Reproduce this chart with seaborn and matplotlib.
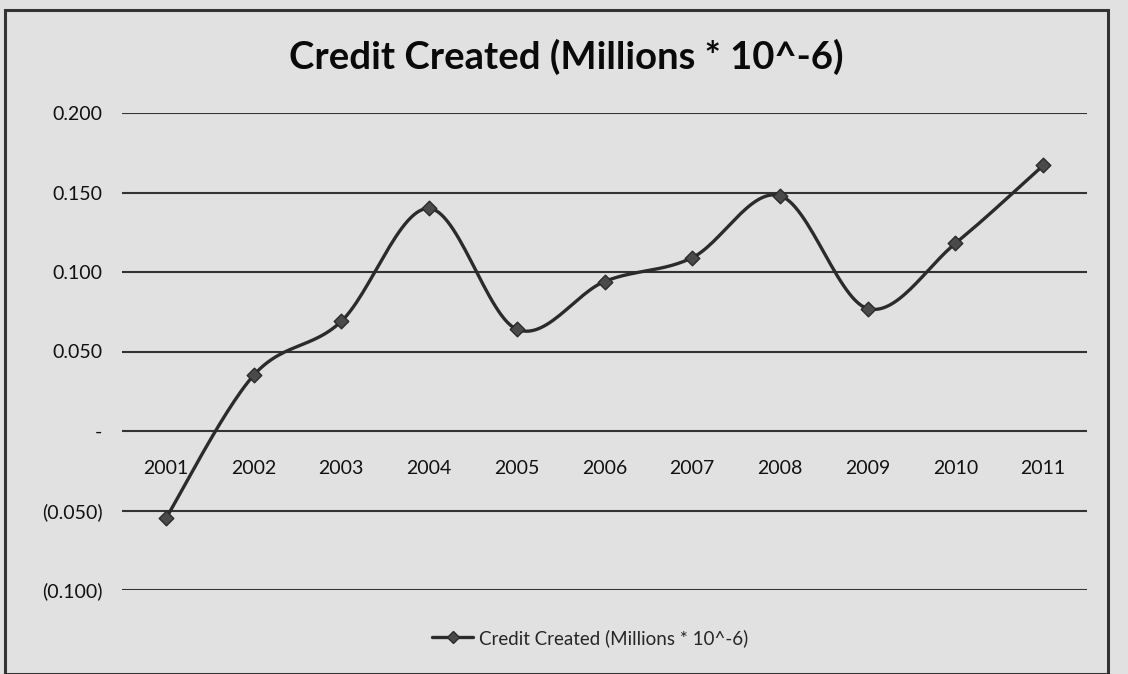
import numpy as np
import pandas as pd
import matplotlib
matplotlib.use("Agg")
from matplotlib import pyplot as plt
from matplotlib.lines import Line2D
from matplotlib.patches import Rectangle
import seaborn as sns

years = ["2001", "2002", "2003", "2004", "2005", "2006",
         "2007", "2008", "2009", "2010", "2011"]
credit = [-0.055, 0.035, 0.069, 0.140, 0.064, 0.094,
          0.109, 0.148, 0.077, 0.118, 0.167]
ytick_vals = [-0.10, -0.05, 0.0, 0.05, 0.10, 0.15, 0.20]
ytick_text = ["(0.100)", "(0.050)", "-", "0.050", "0.100", "0.150", "0.200"]
title = "Credit Created (Millions * 10^-6)"

bg = "#e1e1e1"
ink = "#2b2b2b"

sns.set_style("white")
plt.rcParams["font.family"] = ["Lato", "DejaVu Sans"]

df = pd.DataFrame({"pos": np.arange(len(years)), "credit": credit})


# excel-like smoothed line (bezier through the points)
def smooth(x, y, n=30):
    x = np.asarray(x, float)
    y = np.asarray(y, float)
    px = np.concatenate([[x[0]], x, [x[-1]]])
    py = np.concatenate([[y[0]], y, [y[-1]]])
    outx, outy = [], []
    t = np.linspace(0, 1, n)
    for i in range(1, len(x)):
        p0 = np.array([px[i], py[i]])
        p3 = np.array([px[i + 1], py[i + 1]])
        c1 = p0 + (np.array([px[i + 1], py[i + 1]]) - np.array([px[i - 1], py[i - 1]])) / 6
        c2 = p3 - (np.array([px[i + 2], py[i + 2]]) - np.array([px[i], py[i]])) / 6
        b = ((1 - t) ** 3)[:, None] * p0 + (3 * (1 - t) ** 2 * t)[:, None] * c1 \
            + (3 * (1 - t) * t ** 2)[:, None] * c2 + (t ** 3)[:, None] * p3
        outx.extend(b[:, 0])
        outy.extend(b[:, 1])
    return pd.DataFrame({"pos": outx, "credit": outy})


curve = smooth(df["pos"], df["credit"])

fig = plt.figure(figsize=(11.28, 6.74), dpi=100)
fig.patch.set_facecolor(bg)
ax = fig.add_axes([122 / 1128, 1 - 590 / 674, 965 / 1128, 477 / 674])
ax.set_facecolor(bg)

for v in ytick_vals:
    ax.axhline(v, color="#333333", linewidth=1.5, zorder=1)

sns.lineplot(data=curve, x="pos", y="credit", sort=False, color=ink,
             linewidth=2.4, ax=ax, zorder=3)
sns.scatterplot(data=df, x="pos", y="credit", marker="D", s=55,
                color="#4a4a4a", edgecolor=ink, linewidth=1, ax=ax, zorder=4)

ax.spines["bottom"].set_position(("data", 0))
for s in ax.spines.values():
    s.set_visible(False)
ax.set_xlim(-0.5, len(years) - 0.5)
ax.set_ylim(-0.1, 0.2)
ax.set_yticks(ytick_vals)
ax.set_yticklabels(ytick_text)
ax.set_xticks(df["pos"])
ax.set_xticklabels(years)
ax.tick_params(axis="x", length=0, pad=21, labelsize=14, labelcolor="#111111")
ax.tick_params(axis="y", length=0, pad=14, labelsize=14, labelcolor="#111111")
ax.set_xlabel("")
ax.set_ylabel("")

fig.text(566 / 1128, 1 - 57 / 674, title, ha="center", va="center",
         fontsize=27.5, fontweight="bold", color="#0a0a0a")

handle = Line2D([], [], color=ink, linewidth=2.4, marker="D", markersize=6,
                markerfacecolor="#4a4a4a", markeredgecolor=ink)
fig.legend([handle], [title], loc="center", bbox_to_anchor=(590 / 1128, 1 - 638 / 674),
           frameon=False, fontsize=13.5, handlelength=2.2, handletextpad=0.3)

fig.patches.append(Rectangle((5, 0), 1103, 664, transform=None, fill=False,
                             edgecolor="#333333", linewidth=2.2))

plt.savefig("out.png", dpi=100, facecolor=bg)
